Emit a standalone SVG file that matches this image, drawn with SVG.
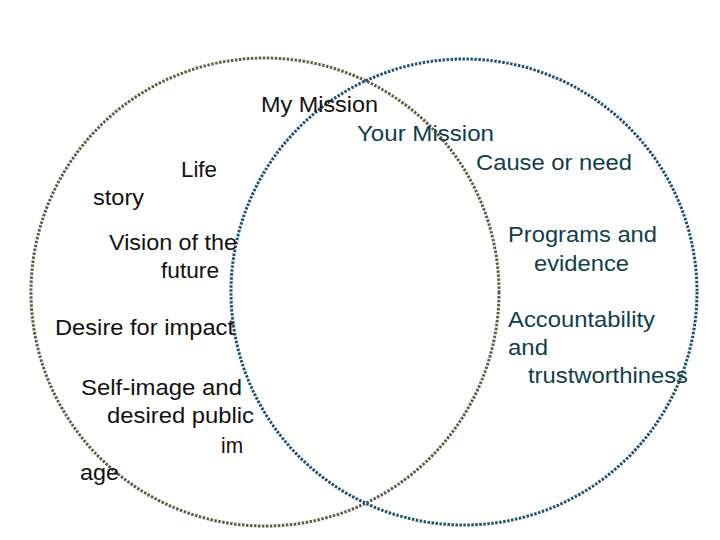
<svg xmlns="http://www.w3.org/2000/svg" width="720" height="540" viewBox="0 0 720 540">
<style>
.c{fill:none;stroke-width:3;stroke-dasharray:2.5 1.5}
.l{stroke:#5f5f40}
.r{stroke:#1d5270}
text{font-family:"Liberation Sans",Arial,sans-serif;font-size:22px}
.k{fill:#111111}
.t{fill:#0f3e4c}
</style>
<rect width="720" height="540" fill="#ffffff"/>
<g id="connectors"></g>
<g id="circle-my-mission"><circle class="c l" cx="265" cy="292" r="234"/></g>
<g id="circle-your-mission"><circle class="c r" cx="464" cy="292" r="233"/></g>
<g id="my-mission-label"><text class="k" x="261" y="112" textLength="117" lengthAdjust="spacingAndGlyphs">My Mission</text></g>
<g id="your-mission-label"><text class="t" x="357" y="141" textLength="137" lengthAdjust="spacingAndGlyphs">Your Mission</text></g>
<g id="cause"><text class="t" x="476" y="170" textLength="156" lengthAdjust="spacingAndGlyphs">Cause or need</text></g>
<g id="life-story">
<text class="k" x="181" y="177" textLength="36" lengthAdjust="spacingAndGlyphs">Life</text>
<text class="k" x="93" y="205" textLength="51" lengthAdjust="spacingAndGlyphs">story</text>
</g>
<g id="vision">
<text class="k" x="109" y="250" textLength="128" lengthAdjust="spacingAndGlyphs">Vision of the</text>
<text class="k" x="161" y="278" textLength="58" lengthAdjust="spacingAndGlyphs">future</text>
</g>
<g id="desire"><text class="k" x="55" y="335" textLength="179" lengthAdjust="spacingAndGlyphs">Desire for impact</text></g>
<g id="self-image">
<text class="k" x="81" y="395" textLength="161" lengthAdjust="spacingAndGlyphs">Self-image and</text>
<text class="k" x="107" y="423" textLength="147" lengthAdjust="spacingAndGlyphs">desired public</text>
<text class="k" x="221" y="453" textLength="22" lengthAdjust="spacingAndGlyphs">im</text>
<text class="k" x="80" y="480" textLength="39" lengthAdjust="spacingAndGlyphs">age</text>
</g>
<g id="programs">
<text class="t" x="508" y="242" textLength="149" lengthAdjust="spacingAndGlyphs">Programs and</text>
<text class="t" x="534" y="271" textLength="95" lengthAdjust="spacingAndGlyphs">evidence</text>
</g>
<g id="accountability">
<text class="t" x="508" y="327" textLength="147" lengthAdjust="spacingAndGlyphs">Accountability</text>
<text class="t" x="508" y="355" textLength="40" lengthAdjust="spacingAndGlyphs">and</text>
<text class="t" x="528" y="383" textLength="160" lengthAdjust="spacingAndGlyphs">trustworthiness</text>
</g>
</svg>
